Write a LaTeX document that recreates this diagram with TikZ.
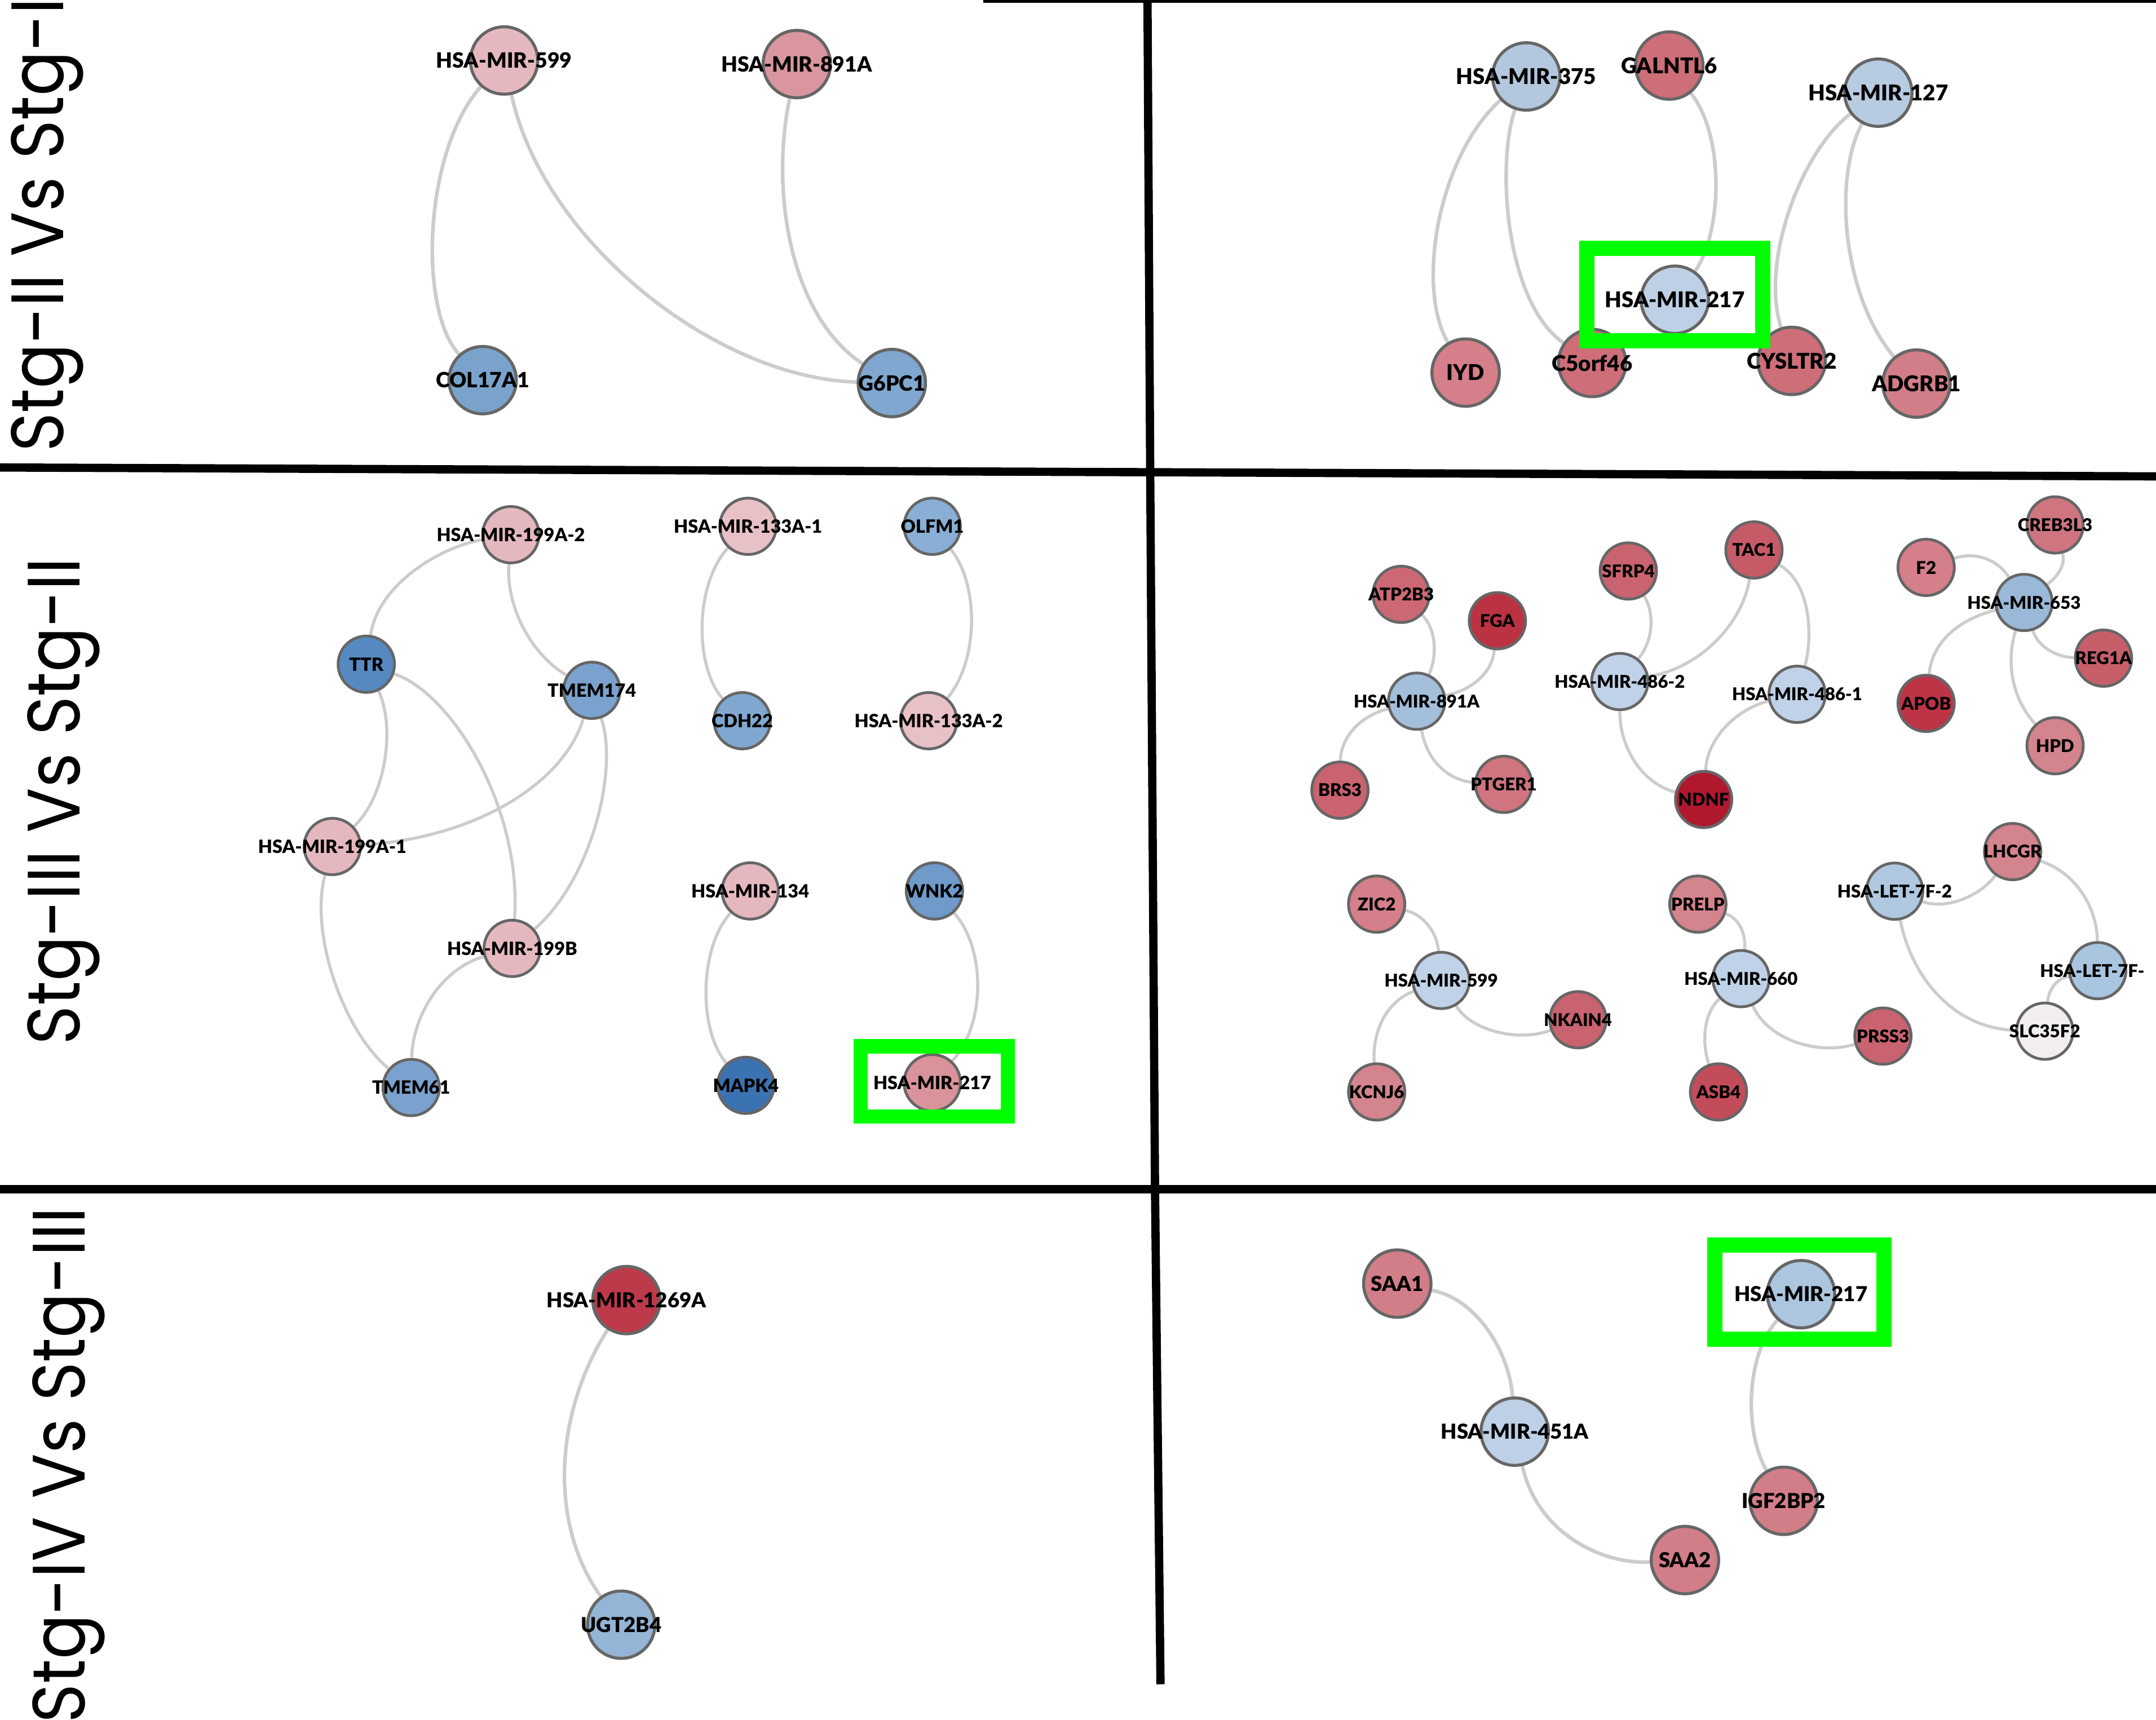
\documentclass[tikz,border=0pt]{standalone}
\usepackage{fontspec}
\IfFontExistsTF{Lato Black}{\newfontfamily\lato{Lato Black}\def\latow{\mdseries}}{\newfontfamily\lato{Lato}[FakeBold=0.6]\def\latow{\bfseries}}
\newfontfamily\pop{Poppins}[FakeStretch=0.896]
\usetikzlibrary{backgrounds}
% node colours
\definecolor{nborder}{HTML}{666666}
\definecolor{edgec}{HTML}{CCCCCC}
\definecolor{hbox}{HTML}{00FF00}
\definecolor{pkA}{HTML}{E5B8BF}
\definecolor{pkB}{HTML}{E8C1C6}
\definecolor{pkC}{HTML}{D9969E}
\definecolor{pkD}{HTML}{DA939B}
\definecolor{rdA}{HTML}{CE6E79}
\definecolor{rdB}{HTML}{D47F89}
\definecolor{rdC}{HTML}{D27E88}
\definecolor{rdD}{HTML}{CC6874}
\definecolor{rdE}{HTML}{BB3343}
\definecolor{rdF}{HTML}{C9636F}
\definecolor{rdG}{HTML}{D07480}
\definecolor{rdH}{HTML}{C65B67}
\definecolor{rdI}{HTML}{B0182E}
\definecolor{rdJ}{HTML}{CF7580}
\definecolor{rdK}{HTML}{C75F6B}
\definecolor{rdL}{HTML}{BD3447}
\definecolor{rdM}{HTML}{D4848D}
\definecolor{rdN}{HTML}{C34C5B}
\definecolor{rdO}{HTML}{BD3A4B}
\definecolor{whA}{HTML}{F2EEEF}
\definecolor{blA}{HTML}{B3C8DF}
\definecolor{blB}{HTML}{B8CCE1}
\definecolor{blC}{HTML}{BDD0E5}
\definecolor{blD}{HTML}{7AA3CC}
\definecolor{blE}{HTML}{80A7CF}
\definecolor{blF}{HTML}{5689C0}
\definecolor{blG}{HTML}{7BA2CE}
\definecolor{blH}{HTML}{8AAED4}
\definecolor{blI}{HTML}{3B72B1}
\definecolor{blJ}{HTML}{6F9ACA}
\definecolor{blK}{HTML}{A4BFDB}
\definecolor{blL}{HTML}{BFD2E7}
\definecolor{blM}{HTML}{9AB8D7}
\definecolor{blN}{HTML}{AFC8E0}
\definecolor{blO}{HTML}{A9C5DF}
\definecolor{blP}{HTML}{94B5D6}
\definecolor{blQ}{HTML}{ADC6DF}
\tikzset{
  gn/.style={circle, draw=nborder, line width=2.2pt, minimum size=49pt, inner sep=0pt},
  gm/.style={gn, minimum size=41pt, line width=2pt},
  lb/.style={inner sep=0pt, text=black, font=\lato\latow\fontsize{15.3}{16}\selectfont},
  lbr/.style={inner sep=0pt, text=black, font=\lato\latow\fontsize{15.8}{16}\selectfont},
  lbb/.style={inner sep=0pt, text=black, font=\lato\latow\fontsize{15}{16}\selectfont},
  lm/.style={inner sep=0pt, text=black, font=\lato\latow\fontsize{13.3}{14}\selectfont},
  lr/.style={inner sep=0pt, text=black, font=\lato\latow\fontsize{12.8}{13}\selectfont},
  edge/.style={draw=edgec, line width=2.6pt},
  edgem/.style={draw=edgec, line width=2.2pt},
  panel/.style={draw=black, line width=6pt},
  hl/.style={draw=hbox, line width=11pt, inner sep=0pt, fill=none},
  side/.style={rotate=90, inner sep=0pt, text=black, font=\pop\fontsize{54}{60}\selectfont}
}
\begin{document}
\begin{tikzpicture}[x=1pt,y=-1pt]
\useasboundingbox (0,0) rectangle (1568,1251);
\clip (0,0) rectangle (1568,1251);

% ---------- side titles ----------
\node[side, anchor=base west] (t1) at (46,329) {Stg-II Vs Stg-I};
\node[side, anchor=base west] (t2) at (58,760) {Stg-III Vs Stg-II};
\node[side, anchor=base east] (t3) at (61.6,878) {Stg-IV Vs Stg-III};

% ---------- panel A (top left) ----------
\node[gn, fill=pkA, label={[lb]center:HSA-MIR-599}] (a599) at (366.6,44) {};
\node[gn, fill=pkC, label={[lb]center:HSA-MIR-891A}] (a891) at (579.5,46.6) {};
\node[gn, fill=blD, label={[lb]center:COL17A1}] (acol) at (351,276.5) {};
\node[gn, fill=blE, label={[lb]center:G6PC1}] (ag6) at (648.6,278.6) {};

% ---------- panel B (top right) ----------
\node[gn, fill=blA, label={[lbr]center:HSA-MIR-375}] (b375) at (1110,55.6) {};
\node[gn, fill=rdA, label={[lbr]center:GALNTL6}] (bgal) at (1214,47.7) {};
\node[gn, fill=blB, label={[lbr]center:HSA-MIR-127}] (b127) at (1366,67.4) {};
\node[gn, fill=blC, label={[lbr]center:HSA-MIR-217}] (b217) at (1218,218) {};
\node[gn, fill=rdB, label={[lbr]center:IYD}] (biyd) at (1065.9,271) {};
\node[gn, fill=rdA, label={[lbr]center:C5orf46}] (bc5) at (1157.9,264) {};
\node[gn, fill=rdA, label={[lbr]center:CYSLTR2}] (bcys) at (1303,262.5) {};
\node[gn, fill=rdC, label={[lbr]center:ADGRB1}] (badg) at (1393.8,279) {};

% ---------- panel C (middle left) ----------
\node[gm, fill=pkA, label={[lm]center:HSA-MIR-199A-2}] (c199a2) at (371.5,388.9) {};
\node[gm, fill=blF, label={[lm]center:TTR}] (cttr) at (266.4,483.1) {};
\node[gm, fill=blG, label={[lm]center:TMEM174}] (ctm174) at (430.4,502.1) {};
\node[gm, fill=pkA, label={[lm]center:HSA-MIR-199A-1}] (c199a1) at (241.7,615.7) {};
\node[gm, fill=pkA, label={[lm]center:HSA-MIR-199B}] (c199b) at (372.5,689.8) {};
\node[gm, fill=blG, label={[lm]center:TMEM61}] (ctm61) at (299,791) {};
\node[gm, fill=pkB, label={[lm]center:HSA-MIR-133A-1}] (c133a1) at (544,382.8) {};
\node[gm, fill=blE, label={[lm]center:CDH22}] (ccdh) at (539.8,524.2) {};
\node[gm, fill=blH, label={[lm]center:OLFM1}] (colfm) at (678,382.8) {};
\node[gm, fill=pkB, label={[lm]center:HSA-MIR-133A-2}] (c133a2) at (675.4,524.2) {};
\node[gm, fill=pkA, label={[lm]center:HSA-MIR-134}] (c134) at (545.6,648) {};
\node[gm, fill=blI, label={[lm]center:MAPK4}] (cmapk) at (542.4,789.4) {};
\node[gm, fill=blJ, label={[lm]center:WNK2}] (cwnk) at (679.6,648) {};
\node[gm, fill=pkD, label={[lm]center:HSA-MIR-217}] (c217) at (678,787.5) {};

% ---------- panel D (middle right) ----------
\node[gm, fill=rdD, label={[lr]center:ATP2B3}] (datp) at (1019,432.3) {};
\node[gm, fill=rdE, label={[lr]center:FGA}] (dfga) at (1089,451.5) {};
\node[gm, fill=blK, label={[lr]center:HSA-MIR-891A}] (d891) at (1030.3,510) {};
\node[gm, fill=rdF, label={[lr]center:BRS3}] (dbrs) at (974.5,574.7) {};
\node[gm, fill=rdG, label={[lr]center:PTGER1}] (dptg) at (1093.6,570.5) {};
\node[gm, fill=rdF, label={[lr]center:SFRP4}] (dsfrp) at (1184.2,415.3) {};
\node[gm, fill=rdH, label={[lr]center:TAC1}] (dtac) at (1275.6,400) {};
\node[gm, fill=blL, label={[lr]center:HSA-MIR-486-2}] (d4862) at (1178,495.7) {};
\node[gm, fill=blL, label={[lr]center:HSA-MIR-486-1}] (d4861) at (1307,505) {};
\node[gm, fill=rdI, label={[lr]center:NDNF}] (dndnf) at (1239,581.5) {};
\node[gm, fill=rdB, label={[lr]center:F2}] (df2) at (1400.8,412.7) {};
\node[gm, fill=rdJ, label={[lr]center:CREB3L3}] (dcreb) at (1494.6,381.8) {};
\node[gm, fill=blM, label={[lr]center:HSA-MIR-653}] (d653) at (1472,438.2) {};
\node[gm, fill=rdK, label={[lr]center:REG1A}] (dreg) at (1529.8,478.7) {};
\node[gm, fill=rdL, label={[lr]center:APOB}] (dapob) at (1400.8,511.6) {};
\node[gm, fill=rdM, label={[lr]center:HPD}] (dhpd) at (1494.6,542.4) {};
\node[gm, fill=rdB, label={[lr]center:ZIC2}] (dzic) at (1001.2,657.6) {};
\node[gm, fill=blL, label={[lr]center:HSA-MIR-599}] (d599) at (1048.1,713.1) {};
\node[gm, fill=rdF, label={[lr]center:NKAIN4}] (dnka) at (1147.6,741.7) {};
\node[gm, fill=rdM, label={[lr]center:KCNJ6}] (dkcn) at (1001.2,794.2) {};
\node[gm, fill=rdM, label={[lr]center:PRELP}] (dprelp) at (1234.8,657.6) {};
\node[gm, fill=blL, label={[lr]center:HSA-MIR-660}] (d660) at (1266.2,711.8) {};
\node[gm, fill=rdF, label={[lr]center:PRSS3}] (dprss) at (1369.4,753.6) {};
\node[gm, fill=rdN, label={[lr]center:ASB4}] (dasb) at (1249.8,794.2) {};
\node[gm, fill=rdM, label={[lr]center:LHCGR}] (dlhcgr) at (1463.7,619.4) {};
\node[gm, fill=blN, label={[lr]center:HSA-LET-7F-2}] (d7f2) at (1377.9,648.2) {};
\node[gm, fill=blO, label={[lr,xshift=-4pt]center:HSA-LET-7F-}] (d7f1) at (1525.6,706) {};
\node[gm, fill=whA, label={[lr]center:SLC35F2}] (dslc) at (1487.1,750) {};

% ---------- panel E (bottom left) ----------
\node[gn, fill=rdO, label={[lbb]center:HSA-MIR-1269A}] (e1269) at (455.6,945.6) {};
\node[gn, fill=blP, label={[lbb]center:UGT2B4}] (eugt) at (451.8,1181.7) {};

% ---------- panel F (bottom right) ----------
\node[gn, fill=rdC, label={[lbb]center:SAA1}] (fsaa1) at (1016.2,933.6) {};
\node[gn, fill=blC, label={[lbb]center:HSA-MIR-451A}] (f451) at (1101.6,1041.3) {};
\node[gn, fill=rdC, label={[lbb]center:SAA2}] (fsaa2) at (1225.4,1134.7) {};
\node[gn, fill=blQ, label={[lbb]center:HSA-MIR-217}] (f217) at (1309.8,941.3) {};
\node[gn, fill=rdC, label={[lbb]center:IGF2BP2}] (figf) at (1297.2,1091.6) {};

% ---------- edges ----------
\begin{pgfonlayer}{background}
\fill[white] (0,0) rectangle (1568,1251);
\draw[edge] (a599) .. controls (308,110) and (304,225) .. (acol);
\draw[edge] (a599) .. controls (395,175) and (520,275) .. (ag6);
\draw[edge] (a891) .. controls (560,140) and (575,230) .. (ag6);

\draw[edge] (b375) .. controls (1045,115) and (1030,210) .. (biyd);
\draw[edge] (b375) .. controls (1088,120) and (1095,220) .. (bc5);
\draw[edge] (bgal) .. controls (1255,100) and (1252,170) .. (b217);
\draw[edge] (b127) .. controls (1310,110) and (1280,190) .. (bcys);
\draw[edge] (b127) .. controls (1333,130) and (1340,215) .. (badg);

\draw[edgem] (c199a2) .. controls (320,398) and (275,425) .. (cttr);
\draw[edgem] (c199a2) .. controls (368,440) and (385,475) .. (ctm174);
\draw[edgem] (cttr) .. controls (288,530) and (280,580) .. (c199a1);
\draw[edgem] (cttr) .. controls (330,505) and (380,590) .. (c199b);
\draw[edgem] (ctm174) .. controls (410,570) and (345,610) .. (c199a1);
\draw[edgem] (ctm174) .. controls (450,560) and (430,640) .. (c199b);
\draw[edgem] (c199a1) .. controls (225,680) and (250,750) .. (ctm61);
\draw[edgem] (c199b) .. controls (320,705) and (300,740) .. (ctm61);
\draw[edgem] (c133a1) .. controls (505,425) and (505,485) .. (ccdh);
\draw[edgem] (colfm) .. controls (712,425) and (712,480) .. (c133a2);
\draw[edgem] (c134) .. controls (508,690) and (508,750) .. (cmapk);
\draw[edgem] (cwnk) .. controls (717,690) and (717,745) .. (c217);

\draw[edgem] (datp) .. controls (1045,458) and (1045,478) .. (d891);
\draw[edgem] (dfga) .. controls (1085,490) and (1070,502) .. (d891);
\draw[edgem] (d891) .. controls (985,522) and (975,540) .. (dbrs);
\draw[edgem] (d891) .. controls (1038,555) and (1055,568) .. (dptg);
\draw[edgem] (dsfrp) .. controls (1203,445) and (1203,465) .. (d4862);
\draw[edgem] (dtac) .. controls (1268,450) and (1240,485) .. (d4862);
\draw[edgem] (dtac) .. controls (1318,425) and (1318,465) .. (d4861);
\draw[edgem] (d4862) .. controls (1178,545) and (1195,570) .. (dndnf);
\draw[edgem] (d4861) .. controls (1265,515) and (1242,535) .. (dndnf);
\draw[edgem] (df2) .. controls (1440,400) and (1455,410) .. (d653);
\draw[edgem] (dcreb) .. controls (1502,410) and (1498,418) .. (d653);
\draw[edgem] (d653) .. controls (1482,470) and (1495,478) .. (dreg);
\draw[edgem] (d653) .. controls (1420,452) and (1405,470) .. (dapob);
\draw[edgem] (d653) .. controls (1458,485) and (1465,510) .. (dhpd);
\draw[edgem] (dzic) .. controls (1035,665) and (1045,678) .. (d599);
\draw[edgem] (d599) .. controls (1070,750) and (1105,758) .. (dnka);
\draw[edgem] (d599) .. controls (1005,730) and (998,755) .. (dkcn);
\draw[edgem] (dprelp) .. controls (1265,668) and (1270,680) .. (d660);
\draw[edgem] (d660) .. controls (1285,755) and (1320,768) .. (dprss);
\draw[edgem] (d660) .. controls (1238,738) and (1238,760) .. (dasb);
\draw[edgem] (d7f2) .. controls (1415,662) and (1440,652) .. (dlhcgr);
\draw[edgem] (dlhcgr) .. controls (1510,635) and (1525,660) .. (d7f1);
\draw[edgem] (d7f2) .. controls (1390,710) and (1420,748) .. (dslc);
\draw[edgem] (d7f1) .. controls (1495,712) and (1490,720) .. (dslc);

\draw[edge] (e1269) .. controls (402,1030) and (400,1110) .. (eugt);

\draw[edge] (fsaa1) .. controls (1075,945) and (1098,985) .. (f451);
\draw[edge] (f451) .. controls (1118,1115) and (1165,1138) .. (fsaa2);
\draw[edge] (f217) .. controls (1270,985) and (1268,1040) .. (figf);
\end{pgfonlayer}

% ---------- highlight boxes ----------
\node[hl, minimum width=128pt, minimum height=67pt] (hb1) at (1218,214.2) {};
\node[hl, line width=10.5pt, minimum width=107pt, minimum height=51pt] (hb2) at (679.5,786.5) {};
\node[hl, minimum width=123pt, minimum height=68.4pt] (hb3) at (1308.5,939.8) {};

% ---------- panel dividers ----------
\coordinate (p1) at (715,1);
\coordinate (p2) at (1568,1);
\coordinate (p3) at (834.5,-4);
\coordinate (p4) at (836.5,343);
\coordinate (p5) at (-4,340);
\coordinate (p6) at (1572,346.5);
\coordinate (p7) at (840,865);
\coordinate (p8) at (-4,865);
\coordinate (p9) at (1572,865);
\coordinate (p10) at (844,1225);
\draw[draw=black, line width=2pt] (p1) -- (p2);
\draw[panel] (p3) -- (p4);
\draw[panel] (p5) -- (p6);
\draw[panel] (p4) -- (p7);
\draw[panel] (p8) -- (p9);
\draw[panel] (p7) -- (p10);
\end{tikzpicture}
\end{document}
